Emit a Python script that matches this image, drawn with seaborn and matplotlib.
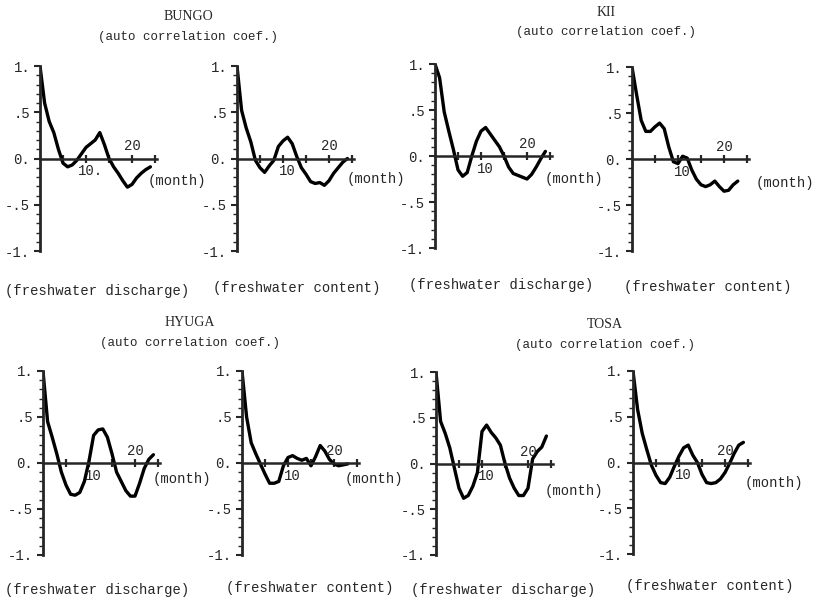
import numpy as np
import pandas as pd
import matplotlib
matplotlib.use("Agg")
import matplotlib.pyplot as plt
import seaborn as sns

sns.set_style("white")
plt.rcParams['font.family'] = ['Liberation Mono', 'DejaVu Sans']

# ---- data: auto-correlation coefficients by lag (months) ----
bungo_discharge = [1.0, 0.6, 0.4, 0.28, 0.1, -0.05, -0.09, -0.07, -0.02, 0.05, 0.12, 0.16, 0.2,
                   0.28, 0.15, 0.0, -0.09, -0.16, -0.24, -0.31, -0.28, -0.21, -0.16, -0.12, -0.09]
bungo_content = [1.0, 0.52, 0.33, 0.18, -0.02, -0.1, -0.15, -0.08, -0.02, 0.13, 0.19, 0.23, 0.16,
                 0.02, -0.1, -0.17, -0.25, -0.27, -0.26, -0.29, -0.24, -0.16, -0.1, -0.04, 0.0]
kii_discharge = [1.0, 0.85, 0.48, 0.27, 0.07, -0.15, -0.22, -0.18, 0.0, 0.16, 0.27, 0.31, 0.24,
                 0.17, 0.1, 0.0, -0.12, -0.19, -0.21, -0.23, -0.25, -0.2, -0.12, -0.03, 0.05]
kii_content = [1.0, 0.7, 0.42, 0.3, 0.3, 0.35, 0.39, 0.33, 0.13, -0.03, -0.05, 0.03, 0.01,
               -0.12, -0.22, -0.28, -0.3, -0.28, -0.24, -0.3, -0.35, -0.34, -0.28, -0.24]
hyuga_discharge = [1.0, 0.45, 0.28, 0.1, -0.1, -0.24, -0.34, -0.35, -0.32, -0.2, 0.02, 0.3, 0.36,
                   0.37, 0.28, 0.1, -0.1, -0.2, -0.3, -0.36, -0.36, -0.22, -0.06, 0.04, 0.09]
hyuga_content = [1.0, 0.5, 0.22, 0.1, -0.01, -0.12, -0.22, -0.22, -0.2, -0.03, 0.06, 0.08, 0.05,
                 0.03, 0.05, -0.03, 0.07, 0.19, 0.13, 0.04, -0.01, -0.03, -0.02, -0.01]
tosa_discharge = [1.0, 0.46, 0.33, 0.17, -0.05, -0.27, -0.38, -0.35, -0.25, -0.1, 0.35, 0.42, 0.34,
                  0.28, 0.2, 0.0, -0.16, -0.27, -0.35, -0.35, -0.27, 0.05, 0.13, 0.18, 0.3]
tosa_content = [1.0, 0.58, 0.32, 0.14, -0.03, -0.14, -0.22, -0.23, -0.16, -0.04, 0.07, 0.16, 0.19,
                0.08, 0.0, -0.13, -0.22, -0.23, -0.22, -0.18, -0.11, -0.01, 0.1, 0.19, 0.22]

region_names = ["BUNGO", "KII", "HYUGA", "TOSA"]
subtitle = "(auto correlation coef.)"
series_labels = ["(freshwater discharge)", "(freshwater content)"]
ytick_values = [1.0, 0.5, 0.0, -0.5, -1.0]
ytick_labels = ["1.", ".5", "0.", "-.5", "-1."]
xtick_values = [5, 10, 15, 20, 25]

W, H = 816, 601
fig = plt.figure(figsize=(W / 100, H / 100), dpi=100)
fig.patch.set_facecolor("white")

def fx(x):
    return x / W

def fy(y):
    return 1 - y / H

XMAX = 25.5
PXM = 4.6  # px per month

# panel layout: (x0, ytop, ybot)
panels = [
    (bungo_discharge, 40, 66, 251, "10."),
    (bungo_content, 237, 66, 251, "10"),
    (kii_discharge, 435, 64, 248, "10"),
    (kii_content, 632, 67, 251, "10"),
    (hyuga_discharge, 43, 371, 555, "10"),
    (hyuga_content, 242, 371, 555, "10"),
    (tosa_discharge, 436, 372, 555, "10"),
    (tosa_content, 633, 371, 554, "10"),
]

month_pos = [(148, 181), (347, 179), (545, 179), (756, 183),
             (153, 479), (345, 479), (545, 491), (745, 483)]

for i, (vals, x0, yt, yb, lab10) in enumerate(panels):
    ax = fig.add_axes([fx(x0), fy(yb), XMAX * PXM / W, (yb - yt) / H])
    ax.set_facecolor("none")
    df = pd.DataFrame({"lag": np.arange(len(vals)), "r": vals})
    sns.lineplot(data=df, x="lag", y="r", ax=ax, color="black", lw=2.4,
                 solid_capstyle="round", solid_joinstyle="round")
    ax.set_xlim(0, XMAX)
    ax.set_ylim(-1, 1)
    for s in ["top", "right"]:
        ax.spines[s].set_visible(False)
    ax.spines["bottom"].set_position(("data", 0))
    ax.spines["bottom"].set_linewidth(1.8)
    ax.spines["left"].set_linewidth(2.0)
    ax.set_xlabel("")
    ax.set_ylabel("")
    ax.set_xticks(xtick_values)
    ax.set_xticklabels([])
    ax.tick_params(axis="x", direction="inout", length=6, width=1.6, bottom=True)
    ax.set_yticks(ytick_values)
    ax.set_yticklabels(ytick_labels, fontsize=10)
    ax.set_yticks(np.arange(-1.0, 1.01, 0.1), minor=True)
    ax.tick_params(axis="y", which="major", direction="out", length=4, width=1.5, left=True, pad=3)
    ax.tick_params(axis="y", which="minor", direction="out", length=3, width=1.0, left=True)
    ax.text(11, -0.14, lab10, ha="center", va="center", fontsize=10)
    ax.text(20, 0.13, "20", ha="center", va="center", fontsize=10)
    mx, my = month_pos[i]
    fig.text(fx(mx), fy(my), "(month)", ha="left", va="center", fontsize=10)

# titles
title_pos = [(188, 16, 37), (606, 13, 32), (190, 323, 343), (605, 325, 345)]
for name, (tx, ty1, ty2) in zip(region_names, title_pos):
    fig.text(fx(tx), fy(ty1), name, ha="center", va="center", fontsize=10,
             family=["Liberation Serif", "DejaVu Serif"])
    fig.text(fx(tx), fy(ty2), subtitle, ha="center", va="center", fontsize=9)

# bottom labels
bottom_pos = [(97, 291), (297, 288), (501, 285), (708, 287),
              (97, 590), (310, 588), (503, 590), (710, 586)]
for j, (bx, by) in enumerate(bottom_pos):
    fig.text(fx(bx), fy(by), series_labels[j % 2], ha="center", va="center", fontsize=10)

fig.savefig("out.png", dpi=100, facecolor="white")
